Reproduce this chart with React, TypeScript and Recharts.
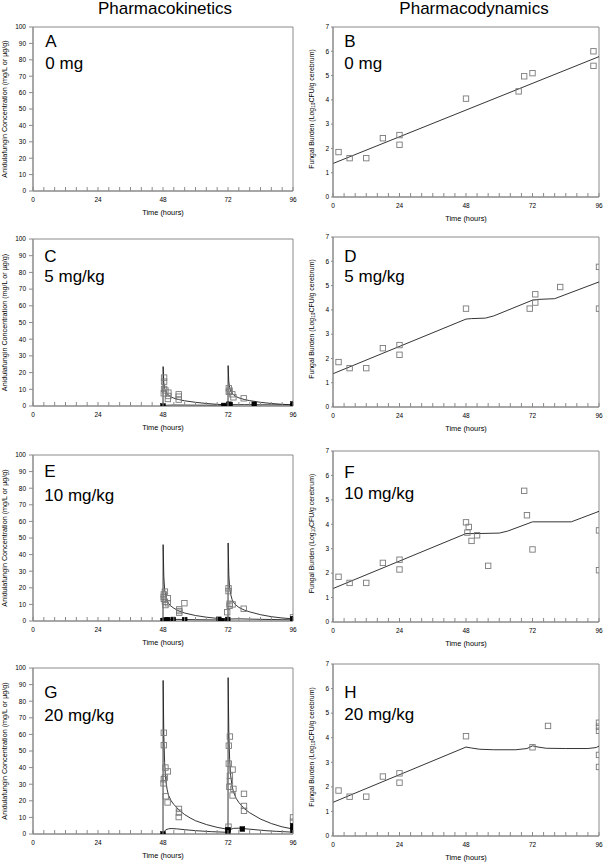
import React from 'react';
import { ComposedChart, Line, Scatter, XAxis, YAxis, ReferenceArea } from 'recharts';

type Pt = { x: number; y: number };

// ---------- axis ticks ----------
const timeTicks = [0, 4, 8, 12, 16, 20, 24, 28, 32, 36, 40, 44, 48, 52, 56, 60, 64, 68, 72, 76, 80, 84, 88, 92, 96];
const timeLabels = [0, 24, 48, 72, 96];
const pkTicks = [0, 10, 20, 30, 40, 50, 60, 70, 80, 90, 100];
const pdTicks = [0, 1, 2, 3, 4, 5, 6, 7];

// ---------- Pharmacokinetics (plasma = open squares, brain = filled squares) ----------
const cPlasmaObs: Pt[] = [
  { x: 48.4, y: 17 }, { x: 48.4, y: 14.6 }, { x: 48.4, y: 10.2 }, { x: 48.9, y: 9.3 }, { x: 48.3, y: 7.6 },
  { x: 50, y: 8 }, { x: 50, y: 6 }, { x: 49.8, y: 4.2 }, { x: 53.8, y: 7 }, { x: 53.8, y: 5.6 }, { x: 53.8, y: 3.8 },
  { x: 72.3, y: 10.6 }, { x: 72.6, y: 9.2 }, { x: 72.3, y: 8.5 }, { x: 73.6, y: 7 }, { x: 74, y: 5.2 }, { x: 77.8, y: 4.6 },
];
const cBrainObs: Pt[] = [
  { x: 48, y: 0 }, { x: 70.4, y: 0.3 }, { x: 72.3, y: 1 }, { x: 72.8, y: 0.9 }, { x: 81.7, y: 1 }, { x: 96, y: 1.2 }, { x: 96, y: 0.3 },
];
const cPlasmaFit: Pt[] = [
  { x: 48, y: 0 }, { x: 48.05, y: 23.6 }, { x: 48.3, y: 14 }, { x: 48.6, y: 10.5 }, { x: 49, y: 8.5 }, { x: 50, y: 6.5 },
  { x: 51, y: 5.4 }, { x: 52, y: 4.7 }, { x: 54, y: 3.8 }, { x: 56, y: 3.1 }, { x: 60, y: 2.2 }, { x: 64, y: 1.5 },
  { x: 68, y: 1 }, { x: 72, y: 0.7 }, { x: 72.05, y: 24.2 }, { x: 72.3, y: 14.5 }, { x: 72.6, y: 11 }, { x: 73, y: 8.8 },
  { x: 74, y: 6.8 }, { x: 75, y: 5.6 }, { x: 76, y: 4.9 }, { x: 78, y: 3.9 }, { x: 80, y: 3.2 }, { x: 84, y: 2.2 },
  { x: 88, y: 1.5 }, { x: 92, y: 1 }, { x: 96, y: 0.7 },
];
const cBrainFit: Pt[] = [
  { x: 48, y: 0 }, { x: 49, y: 0.4 }, { x: 52, y: 0.6 }, { x: 60, y: 0.5 }, { x: 72, y: 0.4 }, { x: 73, y: 0.8 },
  { x: 78, y: 0.8 }, { x: 96, y: 0.6 },
];

const ePlasmaObs: Pt[] = [
  { x: 48.7, y: 17.7 }, { x: 48.3, y: 16 }, { x: 48.3, y: 14.5 }, { x: 48.3, y: 13.3 }, { x: 49.8, y: 13.7 },
  { x: 48.7, y: 11.6 }, { x: 49.8, y: 10.7 }, { x: 48.9, y: 9.6 }, { x: 54, y: 7 }, { x: 54, y: 6 }, { x: 54, y: 5 },
  { x: 55.9, y: 10.7 }, { x: 72.2, y: 19.7 }, { x: 72.2, y: 18 }, { x: 72.6, y: 10.4 }, { x: 73.7, y: 10 },
  { x: 72.6, y: 9.2 }, { x: 71.7, y: 5.3 }, { x: 77.8, y: 7.4 }, { x: 96, y: 2.2 },
];
const eBrainObs: Pt[] = [
  { x: 48, y: 0 }, { x: 48.4, y: 0.3 }, { x: 49, y: 0.6 }, { x: 49.7, y: 0.8 }, { x: 51.8, y: 0.9 }, { x: 56, y: 0.8 },
  { x: 68.6, y: 1 }, { x: 69.8, y: 0.2 }, { x: 71.9, y: 0.9 }, { x: 96, y: 1.4 }, { x: 96, y: 0.8 },
];
const ePlasmaFit: Pt[] = [
  { x: 48, y: 0 }, { x: 48.05, y: 46 }, { x: 48.3, y: 27 }, { x: 48.6, y: 19 }, { x: 49, y: 15 }, { x: 49.5, y: 12.3 },
  { x: 50, y: 10.7 }, { x: 51, y: 8.9 }, { x: 52, y: 7.7 }, { x: 54, y: 5.9 }, { x: 56, y: 4.8 }, { x: 60, y: 3.3 },
  { x: 64, y: 2.3 }, { x: 68, y: 1.6 }, { x: 72, y: 1.1 }, { x: 72.05, y: 47 }, { x: 72.3, y: 28 }, { x: 72.6, y: 20 },
  { x: 73, y: 16 }, { x: 73.5, y: 13 }, { x: 74, y: 11.3 }, { x: 75, y: 9.5 }, { x: 76, y: 8.2 }, { x: 78, y: 6.6 },
  { x: 80, y: 5.5 }, { x: 84, y: 3.8 }, { x: 88, y: 2.6 }, { x: 92, y: 1.8 }, { x: 96, y: 1.3 },
];
const eBrainFit: Pt[] = [
  { x: 48, y: 0 }, { x: 49, y: 0.7 }, { x: 51, y: 1 }, { x: 56, y: 0.9 }, { x: 64, y: 0.7 }, { x: 72, y: 0.6 },
  { x: 73, y: 1.2 }, { x: 76, y: 1.3 }, { x: 84, y: 1 }, { x: 96, y: 0.7 },
];

const gPlasmaObs: Pt[] = [
  { x: 48.3, y: 61 }, { x: 48.3, y: 53.5 }, { x: 48.9, y: 40 }, { x: 49.8, y: 37.7 }, { x: 48.7, y: 34 },
  { x: 48.3, y: 33 }, { x: 48.2, y: 30.5 }, { x: 49, y: 22.7 }, { x: 49.7, y: 19 }, { x: 53.9, y: 15.1 },
  { x: 53.9, y: 12.9 }, { x: 53.8, y: 10.2 }, { x: 72.7, y: 58.7 }, { x: 72.3, y: 53.2 }, { x: 72.3, y: 42.4 },
  { x: 73.7, y: 38.8 }, { x: 72.7, y: 35 }, { x: 72.7, y: 31.9 }, { x: 72.5, y: 28.4 }, { x: 74, y: 27.2 },
  { x: 73.7, y: 23.2 }, { x: 77.9, y: 24.2 }, { x: 77.9, y: 16.9 }, { x: 77.9, y: 14 }, { x: 72.2, y: 4.4 },
  { x: 96, y: 10 }, { x: 96, y: 7.4 },
];
const gBrainObs: Pt[] = [
  { x: 48, y: 0 }, { x: 72, y: 2.6 }, { x: 72, y: 1.8 }, { x: 77.3, y: 3 }, { x: 96, y: 5 }, { x: 96, y: 3.6 }, { x: 96, y: 2.2 },
];
const gPlasmaFit: Pt[] = [
  { x: 48, y: 0 }, { x: 48.05, y: 92.5 }, { x: 48.3, y: 60 }, { x: 48.6, y: 43 }, { x: 49, y: 33 }, { x: 49.5, y: 27 },
  { x: 50, y: 23.5 }, { x: 51, y: 20 }, { x: 52, y: 17.8 }, { x: 54, y: 14.3 }, { x: 56, y: 11.7 }, { x: 58, y: 9.7 },
  { x: 60, y: 8 }, { x: 64, y: 5.7 }, { x: 68, y: 4 }, { x: 72, y: 2.8 }, { x: 72.05, y: 94.2 }, { x: 72.3, y: 62 },
  { x: 72.6, y: 45 }, { x: 73, y: 35 }, { x: 73.5, y: 29 }, { x: 74, y: 25.5 }, { x: 75, y: 21.5 }, { x: 76, y: 19 },
  { x: 78, y: 15.3 }, { x: 80, y: 12.8 }, { x: 84, y: 9 }, { x: 88, y: 6.3 }, { x: 92, y: 4.3 }, { x: 96, y: 3 },
];
const gBrainFit: Pt[] = [
  { x: 48, y: 0 }, { x: 48.5, y: 1.5 }, { x: 49, y: 2.5 }, { x: 50, y: 3.1 }, { x: 51, y: 3.3 }, { x: 53, y: 3.1 },
  { x: 56, y: 2.6 }, { x: 60, y: 2 }, { x: 66, y: 1.4 }, { x: 72, y: 1 }, { x: 72.5, y: 2 }, { x: 73, y: 2.8 },
  { x: 74, y: 3.4 }, { x: 76, y: 3.5 }, { x: 80, y: 2.9 }, { x: 86, y: 2 }, { x: 90, y: 1.6 }, { x: 96, y: 1.1 },
];

// ---------- Pharmacodynamics (fungal burden) ----------
const bObs: Pt[] = [
  { x: 2, y: 1.85 }, { x: 6, y: 1.6 }, { x: 12, y: 1.6 }, { x: 18, y: 2.42 }, { x: 24, y: 2.55 }, { x: 24, y: 2.15 },
  { x: 48, y: 4.05 }, { x: 67, y: 4.35 }, { x: 69, y: 4.97 }, { x: 72, y: 5.1 }, { x: 94, y: 6.0 }, { x: 94, y: 5.4 },
];
const bFit: Pt[] = [{ x: 0, y: 1.38 }, { x: 96, y: 5.78 }];

const dObs: Pt[] = [
  { x: 2, y: 1.85 }, { x: 6, y: 1.6 }, { x: 12, y: 1.6 }, { x: 18, y: 2.42 }, { x: 24, y: 2.55 }, { x: 24, y: 2.15 },
  { x: 48, y: 4.05 }, { x: 71, y: 4.05 }, { x: 73, y: 4.64 }, { x: 73, y: 4.3 }, { x: 82, y: 4.94 }, { x: 96, y: 5.77 }, { x: 96, y: 4.05 },
];
const dFit: Pt[] = [
  { x: 0, y: 1.37 }, { x: 48, y: 3.62 }, { x: 50, y: 3.64 }, { x: 55, y: 3.66 }, { x: 58, y: 3.75 }, { x: 72, y: 4.4 },
  { x: 74, y: 4.43 }, { x: 80, y: 4.46 }, { x: 96, y: 5.15 },
];

const fObs: Pt[] = [
  { x: 2, y: 1.85 }, { x: 6, y: 1.6 }, { x: 12, y: 1.6 }, { x: 18, y: 2.42 }, { x: 24, y: 2.55 }, { x: 24, y: 2.15 },
  { x: 48, y: 4.08 }, { x: 48.5, y: 3.66 }, { x: 49, y: 3.89 }, { x: 50, y: 3.32 }, { x: 52, y: 3.55 }, { x: 56, y: 2.3 },
  { x: 69, y: 5.37 }, { x: 70, y: 4.37 }, { x: 72, y: 2.97 }, { x: 96, y: 3.75 }, { x: 96, y: 2.12 },
];
const fFit: Pt[] = [
  { x: 0, y: 1.37 }, { x: 48, y: 3.62 }, { x: 52, y: 3.62 }, { x: 60, y: 3.64 }, { x: 63, y: 3.72 }, { x: 72, y: 4.1 },
  { x: 86, y: 4.1 }, { x: 96, y: 4.53 },
];

const hObs: Pt[] = [
  { x: 2, y: 1.85 }, { x: 6, y: 1.6 }, { x: 12, y: 1.6 }, { x: 18, y: 2.42 }, { x: 24, y: 2.55 }, { x: 24, y: 2.17 },
  { x: 48, y: 4.06 }, { x: 72, y: 3.61 }, { x: 77.6, y: 4.48 }, { x: 96, y: 4.61 }, { x: 96, y: 4.45 }, { x: 96, y: 4.28 },
  { x: 96, y: 3.3 }, { x: 96, y: 2.81 },
];
const hFit: Pt[] = [
  { x: 0, y: 1.37 }, { x: 48, y: 3.62 }, { x: 50, y: 3.58 }, { x: 53, y: 3.53 }, { x: 58, y: 3.51 }, { x: 66, y: 3.51 },
  { x: 70, y: 3.56 }, { x: 72, y: 3.67 }, { x: 74, y: 3.62 }, { x: 77, y: 3.57 }, { x: 84, y: 3.56 }, { x: 92, y: 3.56 },
  { x: 95, y: 3.6 }, { x: 96, y: 3.66 },
];

// ---------- styling ----------
const GRAY = '#8a8a8a';
const FONT = '"Liberation Sans", Arial, Helvetica, sans-serif';

const OpenSquare = (p: any) => (
  <rect x={p.cx - 2.7} y={p.cy - 2.7} width={5.4} height={5.4} fill="none" stroke="#7a7a7a" strokeWidth={0.9} />
);
const FilledSquare = (p: any) => (
  <rect x={p.cx - 2.4} y={p.cy - 2.4} width={4.8} height={4.8} fill="#000" stroke="#000" strokeWidth={0.5} />
);

const XTick = (props: any) => {
  const { x, y, payload } = props;
  const v = payload.value;
  return (
    <g>
      <line x1={x} x2={x} y1={y} y2={y - 4} stroke={GRAY} strokeWidth={1} />
      {timeLabels.includes(v) && (
        <text x={x} y={y + 11} textAnchor="middle" fontSize={6.5} fill="#000" stroke="none">{v}</text>
      )}
    </g>
  );
};

type PanelProps = {
  side: 'L' | 'R';
  plotTop: number;
  plotH: number;
  yMax: number;
  yTicks: number[];
  openPts?: Pt[];
  filledPts?: Pt[];
  fits?: Pt[][];
};

function Panel({ side, plotTop, plotH, yMax, yTicks, openPts = [], filledPts = [], fits = [] }: PanelProps) {
  const left = side === 'L' ? 0 : 300;
  const width = side === 'L' ? 300 : 303;
  const mr = side === 'L' ? 7 : 4;
  return (
    <div style={{ position: 'absolute', left, top: plotTop - 5 }}>
      <ComposedChart width={width} height={plotH + 35} margin={{ top: 5, right: mr, bottom: 0, left: 8 }}>
        <XAxis
          type="number"
          dataKey="x"
          domain={[0, 96]}
          ticks={timeTicks}
          interval={0}
          tickSize={0}
          tickMargin={0}
          tick={(p: any) => <XTick {...p} />}
          axisLine={{ stroke: GRAY }}
          tickLine={false}
          height={30}
          allowDataOverflow
          label={{ value: 'Time (hours)', position: 'insideBottom', offset: 6.5, fontSize: 7.4, fill: '#000' }}
        />
        <YAxis
          type="number"
          dataKey="y"
          domain={[0, yMax]}
          ticks={yTicks}
          interval={0}
          width={25}
          tickSize={side === 'L' ? 4 : 2}
          tickMargin={side === 'L' ? 3 : 2}
          tick={{ fontSize: 6.5, fill: '#000' }}
          axisLine={{ stroke: GRAY }}
          tickLine={{ stroke: GRAY }}
          allowDataOverflow
        />
        <ReferenceArea x1={0} x2={96} y1={0} y2={yMax} fill="none" stroke={GRAY} strokeWidth={1} ifOverflow="visible" />
        {fits.map((f, i) => (
          <Line key={i} data={f} dataKey="y" type="linear" stroke="#1e1e1e" strokeWidth={0.9} dot={false} isAnimationActive={false} />
        ))}
        {openPts.length > 0 && <Scatter data={openPts} shape={OpenSquare} isAnimationActive={false} />}
        {filledPts.length > 0 && <Scatter data={filledPts} shape={FilledSquare} isAnimationActive={false} />}
      </ComposedChart>
    </div>
  );
}

const panelText = [
  { letter: 'A', dose: '0 mg', x: 45.3, y1: 47, y2: 69 },
  { letter: 'B', dose: '0 mg', x: 344.3, y1: 47.3, y2: 69.3 },
  { letter: 'C', dose: '5 mg/kg', x: 44.3, y1: 261.7, y2: 281.7 },
  { letter: 'D', dose: '5 mg/kg', x: 344.3, y1: 261.7, y2: 281.7 },
  { letter: 'E', dose: '10 mg/kg', x: 44.3, y1: 476.7, y2: 500.8 },
  { letter: 'F', dose: '10 mg/kg', x: 344.3, y1: 477.7, y2: 499.3 },
  { letter: 'G', dose: '20 mg/kg', x: 44.3, y1: 698.3, y2: 721 },
  { letter: 'H', dose: '20 mg/kg', x: 344.3, y1: 697.7, y2: 720 },
];

const leftLabelCenters = [109, 322.5, 538, 751];
const rightLabelCenters = [109, 319, 533.5, 747];

export default function App() {
  return (
    <div style={{ position: 'absolute', left: 0, top: 0, width: 603, height: 863, background: '#fff', fontFamily: FONT, overflow: 'hidden' }}>
      <Panel side="L" plotTop={27} plotH={164} yMax={100} yTicks={pkTicks} />
      <Panel side="R" plotTop={27} plotH={170} yMax={7} yTicks={pdTicks} openPts={bObs} fits={[bFit]} />
      <Panel side="L" plotTop={239} plotH={167} yMax={100} yTicks={pkTicks} openPts={cPlasmaObs} filledPts={cBrainObs} fits={[cPlasmaFit, cBrainFit]} />
      <Panel side="R" plotTop={237} plotH={170} yMax={7} yTicks={pdTicks} openPts={dObs} fits={[dFit]} />
      <Panel side="L" plotTop={455} plotH={166} yMax={100} yTicks={pkTicks} openPts={ePlasmaObs} filledPts={eBrainObs} fits={[ePlasmaFit, eBrainFit]} />
      <Panel side="R" plotTop={451} plotH={171} yMax={7} yTicks={pdTicks} openPts={fObs} fits={[fFit]} />
      <Panel side="L" plotTop={668} plotH={166} yMax={100} yTicks={pkTicks} openPts={gPlasmaObs} filledPts={gBrainObs} fits={[gPlasmaFit, gBrainFit]} />
      <Panel side="R" plotTop={664} plotH={172} yMax={7} yTicks={pdTicks} openPts={hObs} fits={[hFit]} />

      <svg width={603} height={863} style={{ position: 'absolute', left: 0, top: 0, pointerEvents: 'none' }} fontFamily={FONT}>
        <text x={165} y={13.5} textAnchor="middle" fontSize={17} fill="#000">Pharmacokinetics</text>
        <text x={474} y={13.5} textAnchor="middle" fontSize={17} fill="#000">Pharmacodynamics</text>
        {panelText.map((t) => (
          <g key={t.letter}>
            <text x={t.x} y={t.y1} fontSize={17} fill="#000">{t.letter}</text>
            <text x={t.x} y={t.y2} fontSize={17} fill="#000">{t.dose}</text>
          </g>
        ))}
        {leftLabelCenters.map((cy, i) => (
          <text key={'l' + i} transform={`translate(6.6, ${cy}) rotate(-90)`} textAnchor="middle" fontSize={7.2} fill="#000">
            Anidulafungin Concentration (mg/L or µg/g)
          </text>
        ))}
        {rightLabelCenters.map((cy, i) => (
          <text key={'r' + i} transform={`translate(313.5, ${cy}) rotate(-90)`} textAnchor="middle" fontSize={6.9} fill="#000">
            Fungal Burden (Log<tspan fontSize={4.8} dy={1.5}>10</tspan><tspan dy={-1.5}>CFU/g cerebrum)</tspan>
          </text>
        ))}
      </svg>
    </div>
  );
}
